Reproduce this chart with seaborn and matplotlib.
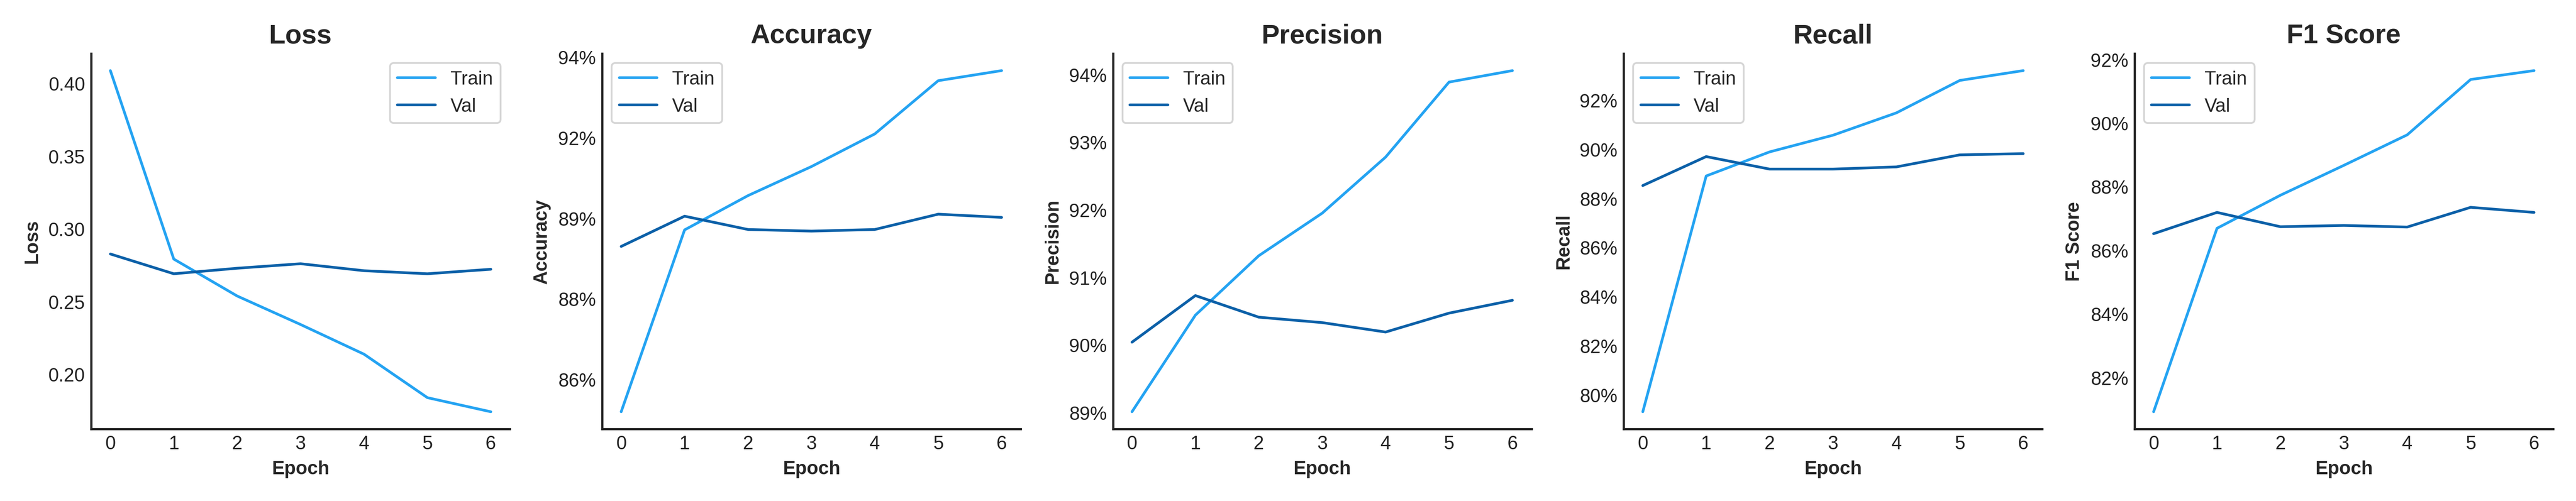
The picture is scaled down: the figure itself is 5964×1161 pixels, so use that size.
import numpy as np
import pandas as pd
import matplotlib
matplotlib.use("Agg")
import matplotlib.pyplot as plt
import seaborn as sns
from matplotlib.ticker import FixedLocator, FixedFormatter

# training history
epochs = [0, 1, 2, 3, 4, 5, 6]
loss_train = [0.4088, 0.2792, 0.2538, 0.2342, 0.2138, 0.1839, 0.1742]
loss_val = [0.2827, 0.2691, 0.2729, 0.2760, 0.2712, 0.2691, 0.2722]
acc_train = [0.8520, 0.8971, 0.9056, 0.9128, 0.9209, 0.9341, 0.9366]
acc_val = [0.8930, 0.9005, 0.8972, 0.8968, 0.8972, 0.9010, 0.9002]
prec_train = [0.8901, 0.9044, 0.9132, 0.9195, 0.9278, 0.9389, 0.9406]
prec_val = [0.9004, 0.9073, 0.9041, 0.9033, 0.9019, 0.9047, 0.9066]
rec_train = [0.7931, 0.8891, 0.8989, 0.9057, 0.9148, 0.9280, 0.9320]
rec_val = [0.8852, 0.8970, 0.8919, 0.8919, 0.8928, 0.8977, 0.8982]
f1_train = [0.8092, 0.8669, 0.8773, 0.8867, 0.8963, 0.9137, 0.9165]
f1_val = [0.8652, 0.8719, 0.8674, 0.8678, 0.8673, 0.8735, 0.8719]

# y tick positions and labels as shown in the reference
acc_ticks = [0.86, 0.88, 0.90, 0.92, 0.94]
acc_labels = ["86%", "88%", "89%", "92%", "94%"]
prec_ticks = [0.89, 0.90, 0.91, 0.92, 0.93, 0.94]
prec_labels = ["89%", "90%", "91%", "92%", "93%", "94%"]
rec_ticks = [0.80, 0.82, 0.84, 0.86, 0.88, 0.90, 0.92]
rec_labels = ["80%", "82%", "84%", "86%", "88%", "90%", "92%"]
f1_ticks = [0.82, 0.84, 0.86, 0.88, 0.90, 0.92]
f1_labels = ["82%", "84%", "86%", "88%", "90%", "92%"]

metrics = [
    ("Loss", loss_train, loss_val, None, None, "upper right"),
    ("Accuracy", acc_train, acc_val, acc_ticks, acc_labels, "upper left"),
    ("Precision", prec_train, prec_val, prec_ticks, prec_labels, "upper left"),
    ("Recall", rec_train, rec_val, rec_ticks, rec_labels, "upper left"),
    ("F1 Score", f1_train, f1_val, f1_ticks, f1_labels, "upper left"),
]

sns.set_theme(style="white")
plt.rcParams["font.family"] = ["Liberation Sans", "DejaVu Sans"]

train_color = "#24a3f2"
val_color = "#0b60a8"

fig, axes = plt.subplots(1, 5, figsize=(19.883, 3.873), dpi=300)

for ax, (name, tr, va, ticks, labels, loc) in zip(axes, metrics):
    df = pd.DataFrame({"Epoch": epochs * 2,
                       "value": tr + va,
                       "Split": ["Train"] * len(tr) + ["Val"] * len(va)})
    sns.lineplot(data=df, x="Epoch", y="value", hue="Split",
                 palette=[train_color, val_color], linewidth=1.5, ax=ax)
    ax.set_title(name, fontsize=15, fontweight="bold")
    ax.set_xlabel("Epoch", fontsize=10.5, fontweight="bold")
    ax.set_ylabel(name, fontsize=10.5, fontweight="bold")
    ax.set_xticks(epochs)
    ax.tick_params(labelsize=10.5, length=0, colors="#222222")
    if ticks is not None:
        ax.yaxis.set_major_locator(FixedLocator(ticks))
        ax.yaxis.set_major_formatter(FixedFormatter(labels))
    ax.legend(title=None, loc=loc, fontsize=10.5)
    sns.despine(ax=ax)

plt.tight_layout()
plt.savefig("out.png", dpi=300)
